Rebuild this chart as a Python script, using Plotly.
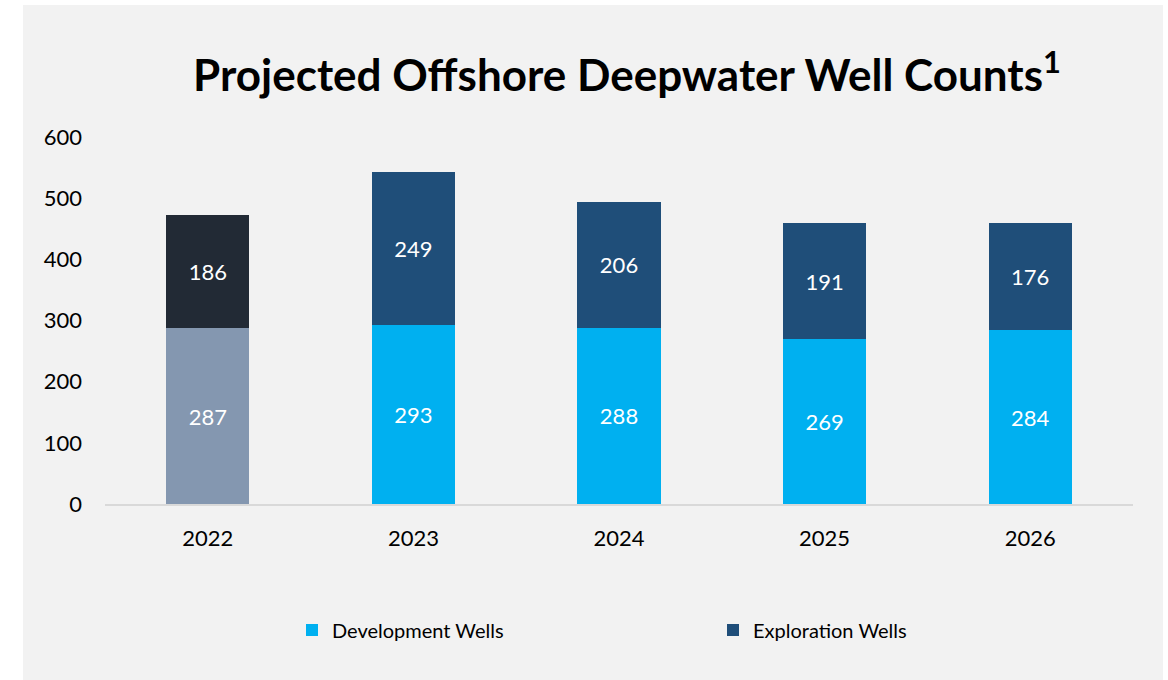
import plotly.graph_objects as go

# Projected deepwater well counts by year
years = ["2022", "2023", "2024", "2025", "2026"]
development_wells = [287, 293, 288, 269, 284]
exploration_wells = [186, 249, 206, 191, 176]

# 2022 is shown in muted tones, projections in the brand palette
DEV_BASE, EXP_BASE = "#8497B0", "#222A35"
DEV_COLOR, EXP_COLOR = "#00B0F0", "#1F4E79"
PANEL = "#F2F2F2"
FONT = "Lato, 'Open Sans', sans-serif"

W, H = 1168, 680
L, R, T, B = 105, 35, 137, 176
plot_w, plot_h = W - L - R, H - T - B

label_font = dict(family=FONT, size=22, color="white")

fig = go.Figure()

def add_bar(x, y, color, name, show, legend):
    fig.add_trace(go.Bar(
        x=x, y=y, name=name, marker=dict(color=color, line=dict(width=0)),
        texttemplate="%{y}", textposition="inside", insidetextanchor="middle",
        textfont=label_font, showlegend=show, legendgroup=name, legend=legend,
        hoverinfo="x+y+name",
    ))

add_bar(years[:1], development_wells[:1], DEV_BASE, "Development Wells", False, "legend")
add_bar(years[:1], exploration_wells[:1], EXP_BASE, "Exploration Wells", False, "legend2")
add_bar(years[1:], development_wells[1:], DEV_COLOR, "Development Wells", True, "legend")
add_bar(years[1:], exploration_wells[1:], EXP_COLOR, "Exploration Wells", True, "legend2")

# grey slide panel behind the chart
fig.add_shape(
    type="rect", xref="paper", yref="paper", layer="below",
    x0=(23 - L) / plot_w, x1=(1163 - L) / plot_w,
    y0=(H - B - H) / plot_h, y1=(H - B - 5) / plot_h,
    fillcolor=PANEL, line=dict(width=0),
)

legend_style = dict(
    orientation="h", xanchor="left",
    y=(H - B - 630) / plot_h, yanchor="middle",
    bgcolor="rgba(0,0,0,0)",
    font=dict(family=FONT, size=20, color="black"),
)

fig.update_layout(
    width=W, height=H,
    margin=dict(l=L, r=R, t=T, b=B, pad=0),
    paper_bgcolor="white", plot_bgcolor=PANEL,
    barmode="stack", bargap=0.595,
    font=dict(family=FONT, size=22, color="black"),
    title=dict(
        text="<b>Projected Offshore Deepwater Well Counts<sup>1</sup></b>",
        font=dict(family=FONT, size=44, color="black"),
        x=(627 - L) / plot_w, xref="paper", xanchor="center",
        y=1 - 76 / H, yref="container", yanchor="middle",
    ),
    xaxis=dict(
        type="category", categoryorder="array", categoryarray=years,
        showline=True, linecolor="#D9D9D9", linewidth=2,
        showgrid=False, zeroline=False, ticks="",
        ticklabelstandoff=14,
        tickfont=dict(family=FONT, size=22, color="black"),
    ),
    yaxis=dict(
        range=[0, 600], tickvals=[0, 100, 200, 300, 400, 500, 600],
        showgrid=False, zeroline=False, showline=False, ticks="",
        ticklabelstandoff=22,
        tickfont=dict(family=FONT, size=22, color="black"),
    ),
    legend=dict(x=(292 - L) / plot_w, **legend_style),
    legend2=dict(x=(713 - L) / plot_w, **legend_style),
)

fig.write_html("out.html")
